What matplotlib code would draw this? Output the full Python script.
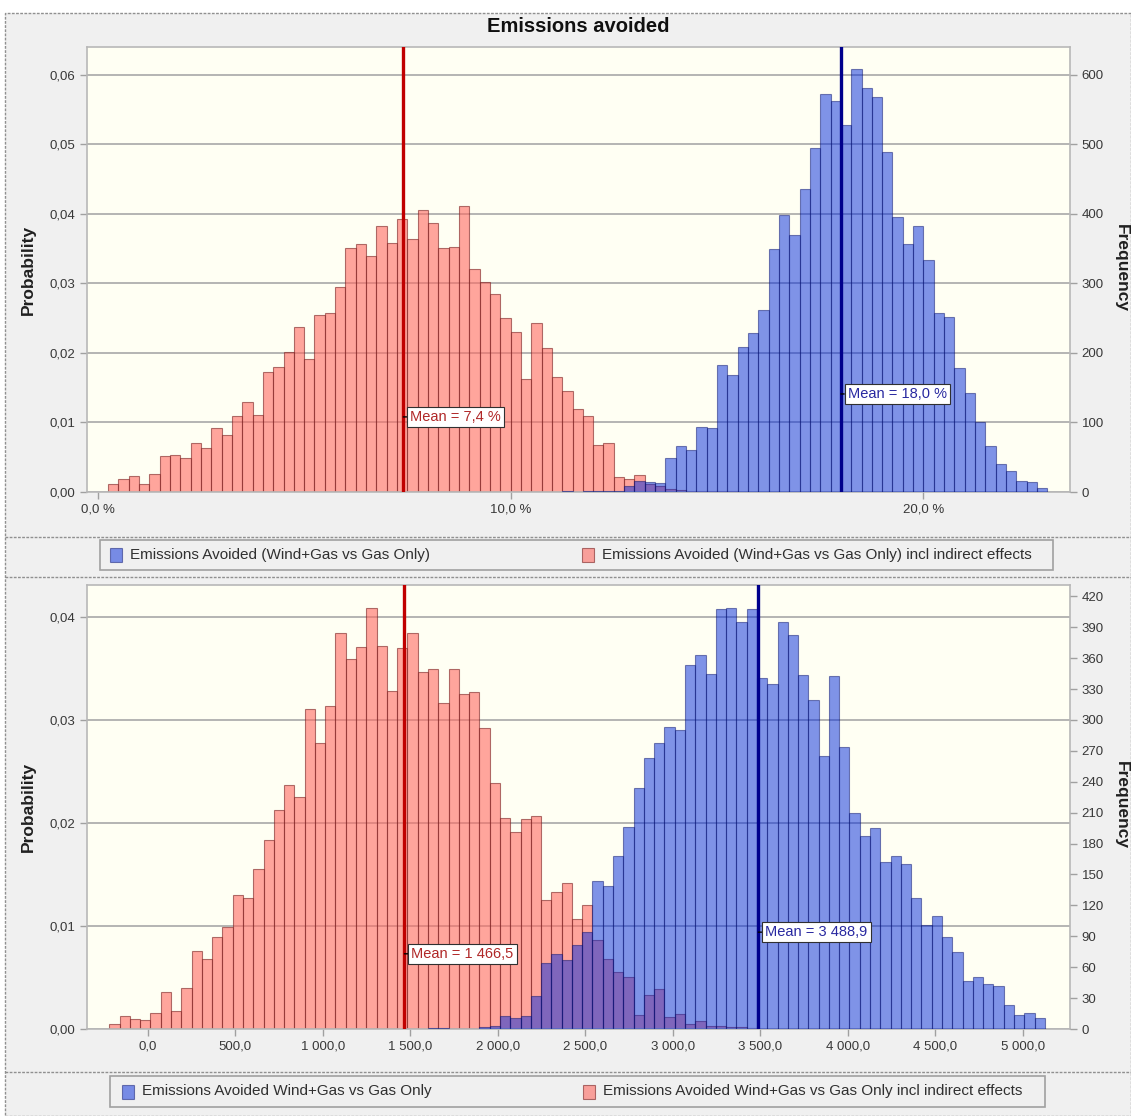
import numpy as np
import matplotlib
matplotlib.use("Agg")
import matplotlib.pyplot as plt
from matplotlib.ticker import FuncFormatter, FixedLocator
from matplotlib.patches import Rectangle
from matplotlib.lines import Line2D

plt.rcParams['font.family'] = ['Liberation Sans', 'DejaVu Sans']

# ---------------- data ----------------
N_ITER = 10000
TITLE = "Emissions avoided"

# top panel (percent)
top_bin_width = 0.25
top_red_first_edge = 0.25
top_red_counts = [11, 18, 23, 11, 26, 52, 53, 49, 70, 63, 92, 82, 110, 129, 111, 172,
                  180, 202, 238, 191, 255, 258, 295, 351, 357, 340, 382, 358,
                  392, 364, 406, 387, 351, 352, 412, 321, 302, 285, 250, 230, 162,
                  243, 207, 166, 145, 119, 110, 68, 71, 22, 18, 24,
                  12, 8, 4, 3, 2, 2, 1, 1, 1]
top_blue_first_edge = 11.25
top_blue_counts = [1, 0, 1, 1, 2, 2, 8, 16, 15, 13,
                   49, 66, 61, 93, 92, 182, 168, 208, 228, 262, 349, 398, 370, 436,
                   495, 573, 563, 528, 608, 581, 568, 489, 396, 357, 383, 333, 257,
                   251, 178, 142, 100, 66, 40, 30, 16, 14, 6]
top_red_mean = 7.4
top_blue_mean = 18.0
top_xticks = [0, 10, 20]
top_legend = ["Emissions Avoided (Wind+Gas vs Gas Only)",
              "Emissions Avoided (Wind+Gas vs Gas Only) incl indirect effects"]

# bottom panel (absolute)
bot_bin_width = 58.74
bot_red_first_edge = -219.4
bot_red_counts = [5, 13, 10, 9, 16, 36, 17, 40, 76, 68, 89, 99, 130, 127, 155, 183,
                  213, 237, 225, 311, 278, 314, 384, 359, 371, 409, 372, 328, 370,
                  384, 347,
                  349, 316, 349, 325, 327, 292, 239, 205, 191, 204, 207, 125, 133,
                  142, 107, 120,
                  86, 68, 55, 50, 14, 33, 39, 12, 15, 5, 8, 3, 3, 2, 2, 1]
bot_blue_first_edge = -219.4 + 31 * 58.74
bot_blue_counts = [1, 1, 0, 0, 0, 2, 3, 13, 11, 13, 32, 64, 73, 67, 82, 94,
                   144, 139, 168, 196, 234, 263, 278, 293, 290, 353, 363, 345, 408,
                   409, 395, 408, 341, 335, 395, 382, 344, 319, 265, 343, 274, 210,
                   187, 195, 162, 168, 160, 127, 101, 110, 89, 75, 47, 50, 44, 42,
                   23, 14, 16, 11]
bot_red_mean = 1466.5
bot_blue_mean = 3488.9
bot_xticks = [0, 500, 1000, 1500, 2000, 2500, 3000, 3500, 4000, 4500, 5000]
bot_legend = ["Emissions Avoided Wind+Gas vs Gas Only",
              "Emissions Avoided Wind+Gas vs Gas Only incl indirect effects"]

# ---------------- styles ----------------
W, H = 1131, 1116
BG = "#f0f0f0"
PLOT_BG = "#fffff3"
RED_FACE = "#ff6a62"
RED_ALPHA = 0.6
RED_EDGE = "#7a2020"
BLUE_FACE = "#0028dc"
BLUE_ALPHA = 0.5
BLUE_EDGE = "#0a1470"
RED_LINE = "#c00000"
BLUE_LINE = "#00008c"
TICK_COLOR = "#383838"
TICK_SIZE = 9.5

fig = plt.figure(figsize=(W / 100, H / 100), dpi=100)
fig.patch.set_facecolor("white")


def fx(px):
    return px / W


def fy(py):
    return 1 - py / H


# outer panel background
fig.patches.append(Rectangle((fx(5), fy(1116)), fx(1131) - fx(5), fy(13) - fy(1116),
                             transform=fig.transFigure, facecolor=BG,
                             edgecolor="#909090", linestyle=(0, (2, 1)), lw=1, zorder=-10))
for yy in [537, 577, 1072]:
    fig.lines.append(Line2D([fx(5), fx(1131)], [fy(yy), fy(yy)], transform=fig.transFigure,
                            color="#909090", linestyle=(0, (2, 1)), lw=1, zorder=-5))


def dec_comma(v, nd):
    s = f"{v:,.{nd}f}"
    s = s.replace(",", " ").replace(".", ",")
    return s


def make_panel(rect, red_first, blue_first, width, red_counts, blue_counts,
               red_mean, blue_mean, xlim, ylim_p, yticks_p, yticks_f, xticks,
               xfmt, red_lab, blue_lab, red_lab_y, blue_lab_y):
    ax = fig.add_axes(rect)
    ax.set_facecolor(PLOT_BG)
    red_counts = np.asarray(red_counts, float)
    blue_counts = np.asarray(blue_counts, float)
    red_left = red_first + width * np.arange(len(red_counts))
    blue_left = blue_first + width * np.arange(len(blue_counts))
    ax.bar(red_left, red_counts / N_ITER, width=width, align="edge",
           color=RED_FACE, alpha=RED_ALPHA, edgecolor=RED_EDGE, linewidth=0.8, zorder=2)
    ax.bar(blue_left, blue_counts / N_ITER, width=width, align="edge",
           color=BLUE_FACE, alpha=BLUE_ALPHA, edgecolor=BLUE_EDGE, linewidth=0.8, zorder=3)
    ax.axvline(red_mean, color=RED_LINE, lw=2.4, zorder=4)
    ax.axvline(blue_mean, color=BLUE_LINE, lw=2.4, zorder=4)
    ax.set_xlim(*xlim)
    ax.set_ylim(*ylim_p)
    ax.yaxis.set_major_locator(FixedLocator(yticks_p))
    ax.yaxis.set_major_formatter(FuncFormatter(lambda v, p: dec_comma(v, 2)))
    ax.xaxis.set_major_locator(FixedLocator(xticks))
    ax.xaxis.set_major_formatter(FuncFormatter(xfmt))
    ax.grid(axis="y", color="#a8a8a8", lw=1.2, zorder=1)
    ax.set_axisbelow(True)
    for s in ax.spines.values():
        s.set_color("#b8b8b8")
        s.set_linewidth(1.2)
    ax.tick_params(axis="both", colors="#a0a0a0", labelcolor=TICK_COLOR,
                   labelsize=TICK_SIZE, length=5, width=1)
    ax.set_ylabel("Probability", fontsize=12.5, fontweight="bold", color="#202020")
    ax.yaxis.set_label_coords((36 - 87) / 983, 0.5)
    ax2 = ax.twinx()
    ax2.set_ylim(ylim_p[0] * N_ITER, ylim_p[1] * N_ITER)
    ax2.yaxis.set_major_locator(FixedLocator(yticks_f))
    ax2.yaxis.set_major_formatter(FuncFormatter(lambda v, p: f"{int(round(v))}"))
    ax2.tick_params(axis="y", colors="#a0a0a0", labelcolor=TICK_COLOR,
                    labelsize=TICK_SIZE, length=5, width=1)
    for s in ax2.spines.values():
        s.set_visible(False)
    # mean labels
    for mean, lab, yv, col in [(red_mean, red_lab, red_lab_y, "#b02828"),
                               (blue_mean, blue_lab, blue_lab_y, "#2828a0")]:
        ax.annotate(lab, xy=(mean, yv), xytext=(5, 0), textcoords="offset points",
                    ha="left", va="center", fontsize=10.5, color=col, zorder=6,
                    bbox=dict(boxstyle="square,pad=0.22", fc="white", ec="#303030", lw=0.8),
                    arrowprops=dict(arrowstyle="-", color="black", lw=1,
                                    shrinkA=0, shrinkB=0))
    return ax, ax2


top_ax, top_ax2 = make_panel(
    [fx(87), fy(492), fx(1070) - fx(87), fy(47) - fy(492)],
    top_red_first_edge, top_blue_first_edge, top_bin_width,
    top_red_counts, top_blue_counts, top_red_mean, top_blue_mean,
    (-0.26, 23.55), (0, 0.064), [0, 0.01, 0.02, 0.03, 0.04, 0.05, 0.06],
    [0, 100, 200, 300, 400, 500, 600], top_xticks,
    lambda v, p: dec_comma(v, 1) + " %",
    "Mean = " + dec_comma(top_red_mean, 1) + " %",
    "Mean = " + dec_comma(top_blue_mean, 1) + " %", 0.0108, 0.0141)

bot_ax, bot_ax2 = make_panel(
    [fx(87), fy(1029), fx(1070) - fx(87), fy(585) - fy(1029)],
    bot_red_first_edge, bot_blue_first_edge, bot_bin_width,
    bot_red_counts, bot_blue_counts, bot_red_mean, bot_blue_mean,
    (-347, 5270), (0, 0.0431), [0, 0.01, 0.02, 0.03, 0.04],
    list(range(0, 421, 30)), bot_xticks,
    lambda v, p: dec_comma(v, 1),
    "Mean = " + dec_comma(bot_red_mean, 1),
    "Mean = " + dec_comma(bot_blue_mean, 1), 0.0073, 0.0094)

fig.text(fx(578), fy(27), TITLE, ha="center", va="center", fontsize=14.5,
         fontweight="bold", color="#101010")
for yc in [268, 805]:
    fig.text(fx(1121), fy(yc), "Frequency", ha="center", va="center", rotation=-90,
             fontsize=12.5, fontweight="bold", color="#202020")


def legend_box(x0, y0, x1, y1, entries):
    fig.patches.append(Rectangle((fx(x0), fy(y1)), fx(x1) - fx(x0), fy(y0) - fy(y1),
                                 transform=fig.transFigure, facecolor=BG,
                                 edgecolor="#a0a0a0", lw=1.2, zorder=1))
    yc = (y0 + y1) / 2
    for (px, text, face, alpha, edge) in entries:
        fig.patches.append(Rectangle((fx(px), fy(yc + 7)), fx(12), fy(yc - 7) - fy(yc + 7),
                                     transform=fig.transFigure, facecolor=face, alpha=alpha,
                                     edgecolor=edge, lw=0.8, zorder=2))
        fig.text(fx(px + 20), fy(yc), text, ha="left", va="center", fontsize=11,
                 color="#303030", zorder=3)


legend_box(100, 540, 1053, 570,
           [(110, top_legend[0], BLUE_FACE, BLUE_ALPHA, BLUE_EDGE),
            (582, top_legend[1], RED_FACE, RED_ALPHA, RED_EDGE)])
legend_box(110, 1076, 1045, 1107,
           [(122, bot_legend[0], BLUE_FACE, BLUE_ALPHA, BLUE_EDGE),
            (583, bot_legend[1], RED_FACE, RED_ALPHA, RED_EDGE)])

fig.savefig("out.png", dpi=100, facecolor=fig.get_facecolor())
